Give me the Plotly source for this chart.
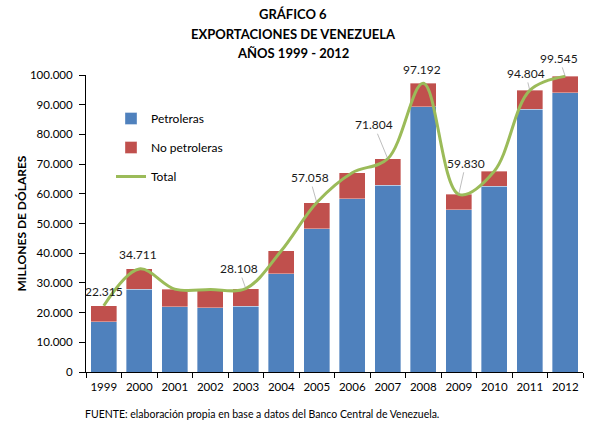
import plotly.graph_objects as go

years = ["1999", "2000", "2001", "2002", "2003", "2004", "2005",
         "2006", "2007", "2008", "2009", "2010", "2011", "2012"]
petroleras = [17000, 27900, 21900, 21600, 22200, 33100, 48300,
              58300, 62900, 89300, 54700, 62600, 88500, 94000]
total = [22315, 34711, 27900, 27800, 28108, 40800, 57058,
         67100, 71804, 97192, 59830, 67600, 94804, 99545]
no_petroleras = [t - p for t, p in zip(total, petroleras)]

# labelled totals: year -> (dx, dy, show leader line)
label_years = ["1999", "2000", "2003", "2005", "2007", "2008", "2009", "2011", "2012"]
label_offsets = {
    "1999": (0, -14, False), "2000": (-1, -14, False), "2003": (-7, -20, True),
    "2005": (-7, -25, True), "2007": (-14, -34, True), "2008": (-1, -14, False),
    "2009": (7, -31, True), "2011": (-4, -17, True), "2012": (-6, -18, True),
}

FONT = "Lato"
BLUE = "#4F81BD"
RED = "#C0504D"
GREEN = "#9BBB59"

fig = go.Figure()
fig.add_trace(go.Bar(x=years, y=petroleras, name="Petroleras", marker_color=BLUE,
                     marker_line=dict(color="rgba(255,255,255,0.6)", width=0.6),
                     legendgroup="a"))
fig.add_trace(go.Bar(x=years, y=no_petroleras, name="No petroleras", marker_color=RED,
                     marker_line=dict(color="rgba(255,255,255,0.6)", width=0.6),
                     legendgroup="b"))
fig.add_trace(go.Scatter(x=years, y=total, name="Total", mode="lines",
                         line=dict(color=GREEN, width=3, shape="spline", smoothing=1.0),
                         legendgroup="c"))

annotations = []
for yr in label_years:
    i = years.index(yr)
    v = total[i]
    dx, dy, lead = label_offsets[yr]
    annotations.append(dict(
        x=i, y=v, xref="x", yref="y", text=f"{v:,}".replace(",", "."),
        showarrow=True, arrowhead=0, arrowwidth=0.7,
        arrowcolor="#A0A0A0" if lead else "rgba(0,0,0,0)",
        ax=dx, ay=dy, font=dict(family=FONT, size=12, color="#1a1a1a"),
        standoff=0, startstandoff=0,
    ))

L, R, T, B = 86, 6, 75, 53
W, H = 589, 425
pw = W - L - R
ph = H - T - B

def px_x(px):
    return (px - L) / pw

def px_y(py):
    return (H - B - py) / ph

for txt, py in [("GRÁFICO 6", 14), ("EXPORTACIONES DE VENEZUELA", 34), ("AÑOS 1999 - 2012", 53)]:
    annotations.append(dict(text=f"<b>{txt}</b>", xref="paper", yref="paper",
                            x=px_x(293), y=px_y(py), xanchor="center", yanchor="middle",
                            showarrow=False, font=dict(family=FONT, size=13, color="black")))

annotations.append(dict(text="<b>MILLONES DE DÓLARES</b>", xref="paper", yref="paper",
                        x=px_x(21), y=0.5, xanchor="center", yanchor="middle", textangle=-90,
                        showarrow=False, font=dict(family=FONT, size=12, color="black")))

annotations.append(dict(text="FUENTE: elaboración propia en base a datos del Banco Central de Venezuela.",
                        xref="paper", yref="paper", x=px_x(83), y=px_y(414),
                        xanchor="left", yanchor="middle", showarrow=False,
                        font=dict(family=FONT, size=10.5, color="black")))

fig.update_layout(
    width=W, height=H,
    margin=dict(l=L, r=R, t=T, b=B),
    barmode="stack", bargap=0.28,
    separators=",.",
    paper_bgcolor="white", plot_bgcolor="white",
    font=dict(family=FONT, size=11, color="black"),
    showlegend=True,
    legend=dict(x=px_x(111), y=px_y(104), xanchor="left", yanchor="top",
                traceorder="grouped", tracegroupgap=10,
                font=dict(family=FONT, size=12, color="black"),
                bgcolor="rgba(0,0,0,0)"),
    annotations=annotations,
)
fig.update_xaxes(type="category", range=[-0.5, len(years) - 0.5], autorange=False,
                 automargin=False, showline=True, linecolor="black", linewidth=1,
                 ticks="outside", tickson="boundaries", ticklen=5, tickcolor="black",
                 tickangle=0, showgrid=False, ticklabelstandoff=4,
                 tickfont=dict(family=FONT, size=11.5, color="black"))
fig.update_yaxes(range=[0, 100000], autorange=False, automargin=False, dtick=10000,
                 tickformat=",d", showline=True,
                 linecolor="black", linewidth=1, ticks="outside", ticklen=6,
                 tickcolor="black", showgrid=False, zeroline=False, ticklabelstandoff=4,
                 tickfont=dict(family=FONT, size=11.5, color="black"))

fig.write_html("out.html", config={"displayModeBar": False},
               post_script="document.body.style.margin='0';document.body.style.padding='0';")
